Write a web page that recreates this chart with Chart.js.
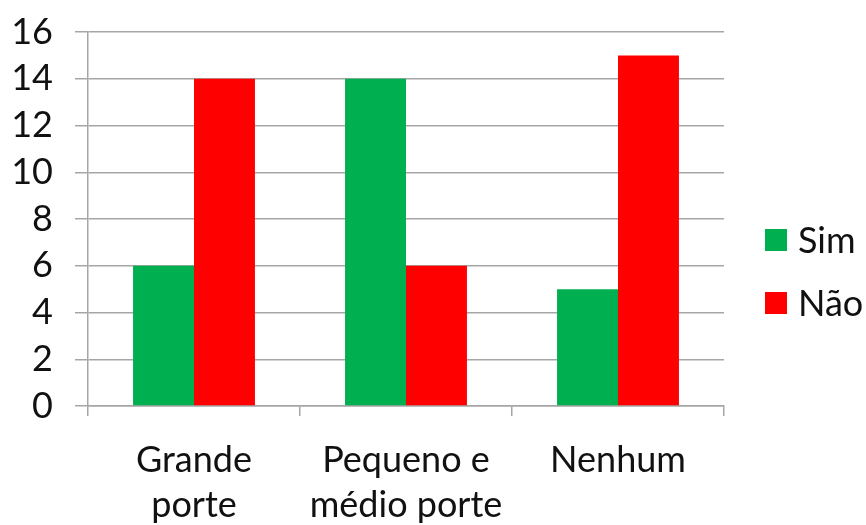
<!DOCTYPE html>
<html>
<head>
<meta charset="utf-8">
<script src="https://cdn.jsdelivr.net/npm/chart.js@4"></script>
<style>
  html, body { margin: 0; padding: 0; background: #fff; }
  #wrap { width: 866px; height: 525px; }
</style>
</head>
<body>
<div id="wrap"><canvas id="c" width="866" height="525"></canvas></div>
<script>
const categories = [["Grande", "porte"], ["Pequeno e", "médio porte"], ["Nenhum"]];
const simValues = [6, 14, 5];
const naoValues = [14, 6, 15];
const seriesNames = ["Sim", "Não"];
const yTicks = [0, 2, 4, 6, 8, 10, 12, 14, 16];

const fontFamily = "Lato, 'Open Sans', sans-serif";
const gridColor = "#a6a6a6";
const textColor = "#111111";

// Legend to the right of the plot: square swatch followed by the series name
const sideLegend = {
  id: "sideLegend",
  afterDraw(chart) {
    const ctx = chart.ctx;
    const boxX = 765, boxSize = 22, textX = 798;
    const firstY = 240, step = 63;
    ctx.save();
    ctx.font = "36px " + fontFamily;
    ctx.textBaseline = "middle";
    ctx.textAlign = "left";
    chart.data.datasets.forEach((ds, i) => {
      const cy = firstY + i * step;
      ctx.fillStyle = ds.backgroundColor;
      ctx.fillRect(boxX, cy - boxSize / 2, boxSize, boxSize);
      ctx.fillStyle = textColor;
      ctx.fillText(ds.label, textX, cy + 1);
    });
    ctx.restore();
  }
};

new Chart(document.getElementById("c"), {
  type: "bar",
  data: {
    labels: categories,
    datasets: [
      { label: seriesNames[0], data: simValues, backgroundColor: "#00B050", borderWidth: 0,
        categoryPercentage: 0.575, barPercentage: 1.0 },
      { label: seriesNames[1], data: naoValues, backgroundColor: "#FF0000", borderWidth: 0,
        categoryPercentage: 0.575, barPercentage: 1.0 }
    ]
  },
  plugins: [sideLegend],
  options: {
    responsive: false,
    animation: false,
    layout: { padding: { top: 32, left: 0, right: 142, bottom: 0 } },
    plugins: {
      tooltip: { enabled: false },
      legend: { display: false }
    },
    scales: {
      x: {
        afterFit: (scale) => { scale.height = 119; scale.paddingLeft = 0; scale.paddingRight = 0; },
        grid: {
          offset: true,
          drawOnChartArea: false,
          drawTicks: true,
          tickLength: 10,
          color: gridColor,
          lineWidth: 1.5
        },
        border: { color: gridColor, width: 1.5 },
        ticks: {
          color: textColor,
          font: { family: fontFamily, size: 36, lineHeight: 1.25 },
          padding: 22,
          maxRotation: 0,
          autoSkip: false
        }
      },
      y: {
        min: 0,
        max: 16,
        afterFit: (scale) => { scale.width = 88; scale.paddingTop = 0; scale.paddingBottom = 0; },
        afterBuildTicks: (axis) => { axis.ticks = yTicks.map(v => ({ value: v })); },
        grid: {
          color: gridColor,
          lineWidth: 1.5,
          tickLength: 13
        },
        border: { color: gridColor, width: 1.5 },
        ticks: {
          color: textColor,
          font: { family: fontFamily, size: 36 },
          padding: 22,
          autoSkip: false
        }
      }
    }
  }
});
</script>
</body>
</html>
